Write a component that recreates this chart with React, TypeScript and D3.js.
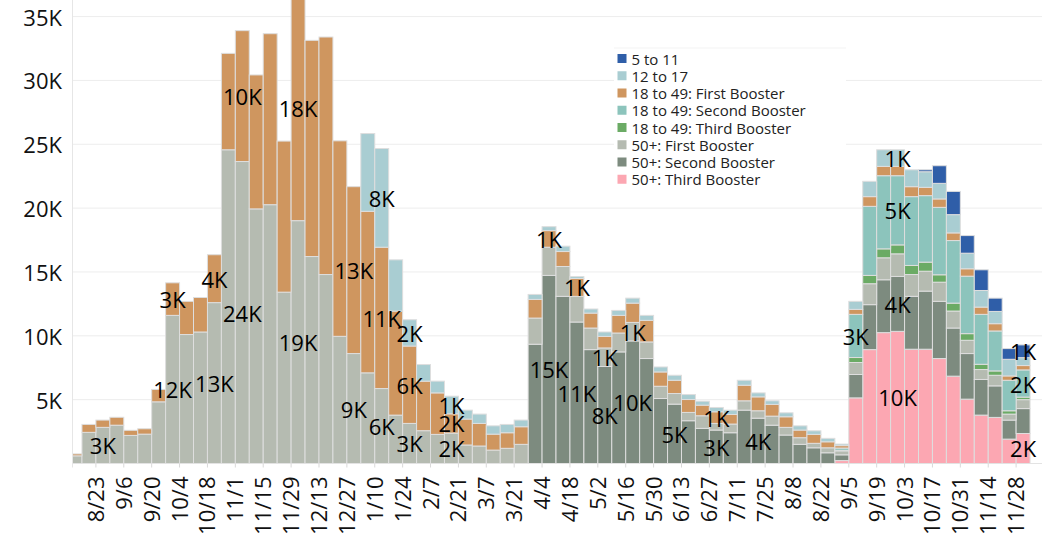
import React from "react";
import * as d3 from "d3";

// ---------- DATA ----------
// 69 weekly bars, weeks starting Monday 2021-08-09 through 2022-11-28
const firstWeek = new Date(Date.UTC(2021, 7, 9));
const weekCount = 69;

const seriesKeys = [
  "50+: Third Booster",
  "50+: Second Booster",
  "50+: First Booster",
  "18 to 49: Third Booster",
  "18 to 49: Second Booster",
  "18 to 49: First Booster",
  "12 to 17",
  "5 to 11",
];

const legendOrder = [
  "5 to 11",
  "12 to 17",
  "18 to 49: First Booster",
  "18 to 49: Second Booster",
  "18 to 49: Third Booster",
  "50+: First Booster",
  "50+: Second Booster",
  "50+: Third Booster",
];

const seriesColors = [
  "#fca7b2",
  "#7d8b7f",
  "#b5bbb1",
  "#6bab65",
  "#8cc4bc",
  "#cf965f",
  "#a9cdd2",
  "#2f5ea8",
];

const plus50Third = [
  0, 0, 0, 0, 0, 0, 0, 0, 0, 0,
  0, 0, 0, 0, 0, 0, 0, 0, 0, 0,
  0, 0, 0, 0, 0, 0, 0, 0, 0, 0,
  0, 0, 0, 0, 0, 0, 0, 0, 0, 0,
  0, 0, 0, 0, 0, 0, 0, 0, 0, 0,
  0, 0, 0, 0, 0, 230, 5140, 8920, 10250, 10350,
  8950, 8950, 8220, 6840, 5040, 3790, 3610, 1910, 2350,
];

const plus50Second = [
  0, 0, 0, 0, 0, 0, 0, 0, 0, 0,
  0, 0, 0, 0, 0, 0, 0, 0, 0, 0,
  0, 0, 0, 0, 0, 0, 0, 0, 0, 0,
  0, 0, 0, 9340, 14730, 13090, 11080, 8920, 7600, 8740,
  9600, 8220, 5090, 4650, 3350, 2750, 2620, 2410, 4180, 3550,
  3000, 2230, 1500, 1230, 840, 450, 1830, 3520, 4140, 4300,
  4140, 4550, 4480, 3770, 3570, 2790, 2470, 1490, 1950,
];

const plus50First = [
  600, 2440, 2830, 3000, 2200, 2300, 4830, 11600, 10100, 10300,
  12600, 24570, 23650, 19940, 20270, 13420, 19020, 16210, 14800, 9960,
  8610, 7100, 5870, 3790, 3140, 2570, 2280, 2380, 1450, 1370,
  1050, 1190, 1500, 2050, 2210, 2340, 2010, 1690, 1450, 1480,
  1450, 1300, 960, 830, 650, 990, 520, 680, 730, 580,
  710, 600, 520, 350, 390, 310, 940, 1640, 1720, 1770,
  1710, 1560, 1500, 1330, 1040, 780, 830, 470, 700,
];

const age18to49Third = [
  0, 0, 0, 0, 0, 0, 0, 0, 0, 0,
  0, 0, 0, 0, 0, 0, 0, 0, 0, 0,
  0, 0, 0, 0, 0, 0, 0, 0, 0, 0,
  0, 0, 0, 0, 0, 0, 0, 0, 0, 0,
  0, 0, 0, 0, 0, 0, 0, 0, 0, 0,
  0, 0, 0, 0, 0, 40, 390, 650, 700, 700,
  710, 710, 580, 620, 520, 410, 340, 260, 200,
];

const age18to49Second = [
  0, 0, 0, 0, 0, 0, 0, 0, 0, 0,
  0, 0, 0, 0, 0, 0, 0, 0, 0, 0,
  0, 0, 0, 0, 0, 0, 0, 0, 0, 0,
  0, 0, 0, 0, 0, 0, 0, 0, 0, 0,
  0, 0, 0, 0, 0, 0, 0, 0, 0, 0,
  0, 0, 0, 0, 0, 180, 3380, 5410, 5730, 5420,
  5390, 5210, 5280, 4900, 4500, 3910, 3130, 2390, 2130,
];

const age18to49First = [
  150, 620, 570, 620, 400, 420, 970, 2550, 2600, 2700,
  3750, 7550, 10250, 10490, 13390, 11830, 17700, 16930, 18600, 15310,
  13070, 12650, 11070, 8150, 6060, 3880, 3250, 1510, 2030, 1770,
  1250, 1220, 1380, 1460, 1300, 1170, 1400, 1170, 900, 1380,
  1510, 1690, 1120, 1040, 1010, 830, 910, 750, 1220, 1090,
  920, 830, 600, 700, 470, 190, 390, 760, 730, 730,
  780, 650, 660, 600, 580, 570, 570, 340, 340,
];

const age12to17 = [
  0, 0, 0, 0, 0, 0, 0, 0, 0, 0,
  0, 0, 0, 0, 0, 0, 0, 0, 0, 0,
  0, 6090, 7730, 4010, 2060, 1300, 920, 1380, 700, 730,
  650, 650, 520, 390, 310, 420, 150, 320, 350, 390,
  390, 390, 390, 390, 390, 310, 340, 340, 390, 310,
  280, 310, 330, 280, 270, 120, 630, 1200, 1300, 1300,
  1320, 1220, 1220, 1430, 1220, 1300, 960, 1300, 620,
];

const age5to11 = [
  0, 0, 0, 0, 0, 0, 0, 0, 0, 0,
  0, 0, 0, 0, 0, 0, 0, 0, 0, 0,
  0, 0, 0, 0, 0, 0, 0, 0, 0, 0,
  0, 0, 0, 0, 0, 0, 0, 0, 0, 0,
  0, 0, 0, 0, 0, 0, 0, 0, 0, 0,
  0, 0, 0, 0, 0, 0, 0, 0, 0, 0,
  0, 150, 1380, 1820, 1380, 1620, 1040, 840, 1000,
];

const seriesValues = [
  plus50Third,
  plus50Second,
  plus50First,
  age18to49Third,
  age18to49Second,
  age18to49First,
  age12to17,
  age5to11,
];

// y tick values
const yTicks = [5000, 10000, 15000, 20000, 25000, 30000, 35000];

// x tick range: every other Monday from 8/23/2021 to 11/28/2022
const xTickFirst = new Date(Date.UTC(2021, 7, 23));
const xTickLast = new Date(Date.UTC(2022, 10, 29));

// labelled segments (week index, series)
const markLabels = [
  { week: 2, key: "50+: First Booster" },
  { week: 7, key: "50+: First Booster" },
  { week: 7, key: "18 to 49: First Booster" },
  { week: 10, key: "50+: First Booster" },
  { week: 10, key: "18 to 49: First Booster" },
  { week: 12, key: "50+: First Booster" },
  { week: 12, key: "18 to 49: First Booster" },
  { week: 16, key: "50+: First Booster" },
  { week: 16, key: "18 to 49: First Booster" },
  { week: 20, key: "50+: First Booster" },
  { week: 20, key: "18 to 49: First Booster" },
  { week: 22, key: "50+: First Booster" },
  { week: 22, key: "18 to 49: First Booster" },
  { week: 22, key: "12 to 17" },
  { week: 24, key: "50+: First Booster" },
  { week: 24, key: "18 to 49: First Booster" },
  { week: 24, key: "12 to 17" },
  { week: 27, key: "50+: First Booster" },
  { week: 27, key: "18 to 49: First Booster" },
  { week: 27, key: "12 to 17" },
  { week: 34, key: "50+: Second Booster" },
  { week: 34, key: "18 to 49: First Booster" },
  { week: 36, key: "50+: Second Booster" },
  { week: 36, key: "18 to 49: First Booster" },
  { week: 38, key: "50+: Second Booster" },
  { week: 38, key: "50+: First Booster" },
  { week: 40, key: "50+: Second Booster" },
  { week: 40, key: "50+: First Booster" },
  { week: 43, key: "50+: Second Booster" },
  { week: 46, key: "50+: Second Booster" },
  { week: 46, key: "18 to 49: First Booster" },
  { week: 49, key: "50+: Second Booster" },
  { week: 56, key: "18 to 49: Second Booster" },
  { week: 59, key: "50+: Third Booster" },
  { week: 59, key: "50+: Second Booster" },
  { week: 59, key: "18 to 49: Second Booster" },
  { week: 59, key: "12 to 17" },
  { week: 68, key: "50+: Third Booster" },
  { week: 68, key: "18 to 49: Second Booster" },
  { week: 68, key: "5 to 11" },
];

// ---------- LAYOUT ----------
const W = 1051;
const H = 535;
const plotLeft = 73;
const plotRight = 1042;
const baseY = 463.5;
const yMax = 36300;
const domainStart = new Date(Date.UTC(2021, 7, 11, 12));
const domainEnd = new Date(Date.UTC(2022, 11, 11));
const FONT = "'Open Sans', 'DejaVu Sans', sans-serif";

export default function App() {
  const weeks = d3.range(weekCount).map((i) => d3.utcDay.offset(firstWeek, 7 * i));
  const rows = weeks.map((d, i) => {
    const r: any = { date: d };
    seriesKeys.forEach((k, j) => (r[k] = seriesValues[j][i]));
    return r;
  });
  const stacked = d3.stack<any>().keys(seriesKeys)(rows);

  const x = d3.scaleUtc().domain([domainStart, domainEnd]).range([plotLeft, plotRight]);
  const y = d3.scaleLinear().domain([0, yMax]).range([baseY, 0]);
  const color = d3.scaleOrdinal<string, string>().domain(seriesKeys).range(seriesColors);

  const tickDates = d3.utcMonday
    .range(xTickFirst, xTickLast)
    .filter((_, i) => i % 2 === 0);
  const fmt = d3.utcFormat("%-m/%-d");

  const legendX = 614;
  const legendY = 48;
  const rowH = 17.25;

  return (
    <svg
      width={W}
      height={H}
      style={{ position: "absolute", left: 0, top: 0, background: "#fff" }}
      fontFamily={FONT}
    >
      <defs>
        <clipPath id="plotClip">
          <rect x={plotLeft} y={0} width={plotRight - plotLeft} height={baseY} />
        </clipPath>
      </defs>
      <rect x={0} y={0} width={W} height={H} fill="#fff" />

      {/* gridlines */}
      {yTicks.map((t) => (
        <line key={t} x1={plotLeft} x2={plotRight} y1={y(t)} y2={y(t)} stroke="#ededed" strokeWidth={1} />
      ))}
      {/* y axis line */}
      <line x1={plotLeft - 0.5} x2={plotLeft - 0.5} y1={0} y2={baseY + 4} stroke="#e6e6e6" />

      {/* legend */}
      <rect x={legendX} y={legendY} width={232} height={148} fill="#fff" />
      <line x1={legendX} x2={legendX + 232} y1={legendY} y2={legendY} stroke="#f3f3f3" />
      {legendOrder.map((k, i) => {
        const cy = 58.5 + i * rowH;
        return (
          <g key={k}>
            <rect x={617.5} y={cy - 4.5} width={9} height={9} fill={color(k)} />
            <text x={631.5} y={cy} dominantBaseline="central" fontSize={15} fill="#222">
              {k}
            </text>
          </g>
        );
      })}

      {/* bars */}
      <g clipPath="url(#plotClip)">
        {stacked.map((s) => (
          <g key={s.key} fill={color(s.key)}>
            {s.map((d, i) => {
              if (d[1] - d[0] <= 0) return null;
              const x0 = x(weeks[i]);
              const x1 = x(d3.utcDay.offset(weeks[i], 7));
              return (
                <rect
                  key={i}
                  x={x0}
                  y={y(d[1])}
                  width={x1 - x0}
                  height={y(d[0]) - y(d[1])}
                  stroke="#dedede"
                  strokeWidth={1}
                />
              );
            })}
          </g>
        ))}
      </g>

      {/* x axis */}
      <line x1={plotLeft} x2={plotRight} y1={baseY} y2={baseY} stroke="#e3e3e3" />
      {tickDates.map((d) => (
        <g key={+d}>
          <line x1={x(d)} x2={x(d)} y1={baseY} y2={baseY + 4} stroke="#d9d9d9" />
          <text
            transform={`translate(${x(d) - 1},${baseY + 13}) rotate(-90)`}
            textAnchor="end"
            dominantBaseline="central"
            fontSize={22}
            fill="#111"
          >
            {fmt(d)}
          </text>
        </g>
      ))}

      {/* y axis labels */}
      {yTicks.map((t) => (
        <text key={t} x={62} y={y(t)} textAnchor="end" dominantBaseline="central" fontSize={22} fill="#111">
          {`${t / 1000}K`}
        </text>
      ))}

      {/* mark labels */}
      {markLabels.map((l, i) => {
        const s = stacked[seriesKeys.indexOf(l.key)];
        const d = s[l.week];
        const cx = (x(weeks[l.week]) + x(d3.utcDay.offset(weeks[l.week], 7))) / 2;
        const cy = (y(d[0]) + y(d[1])) / 2;
        const v = d[1] - d[0];
        return (
          <text key={i} x={cx} y={cy} textAnchor="middle" dominantBaseline="central" fontSize={22} fill="#000">
            {`${Math.round(v / 1000)}K`}
          </text>
        );
      })}
    </svg>
  );
}
